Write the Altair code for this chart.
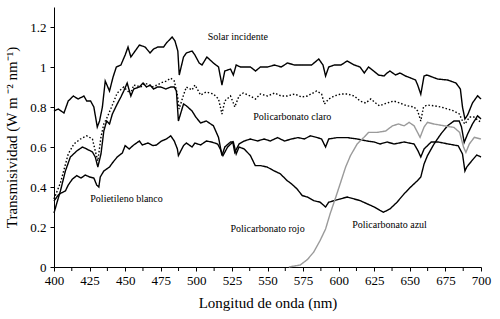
import altair as alt
import pandas as pd

# ---- data (wavelength nm, transmissivity) ----
solar = [(400,0.78),(403,0.79),(407,0.77),(410,0.83),(413.6,0.855),(417,0.84),(421,0.855),(423,0.83),
         (425.7,0.83),(428,0.80),(430.4,0.70),(432,0.73),(434,0.80),(436,0.93),(439,0.88),(441.5,0.95),
         (443.8,1.0),(447,1.01),(450,1.06),(452,1.10),(454,1.05),(457,1.08),(460,1.11),(464,1.10),
         (467.5,1.07),(470,1.09),(473,1.10),(477,1.10),(479,1.12),(483,1.15),(485,1.13),(487,1.08),
         (488,0.96),(491,1.05),(493,1.07),(497,1.08),(499,1.06),(502,1.02),(504,1.01),(507.4,1.05),
         (512,1.02),(515.6,1.0),(518,0.91),(520,0.98),(524,0.99),(526,0.96),(528,1.01),(531,1.0),
         (534,1.0),(538,1.0),(541.6,0.98),(545,1.0),(550,1.0),(555,1.01),(559.6,1.0),(564,1.02),
         (569,1.01),(574,1.01),(581,1.01),(586,1.04),(589,1.01),(590.8,0.955),(593,1.0),(597,1.01),
         (601.6,1.01),(606,1.03),(611,1.01),(615,1.0),(618,0.97),(621,1.0),(624.6,0.98),(628,0.96),
         (631.8,0.955),(634,0.97),(636,0.98),(640,0.96),(643,0.97),(647,0.955),(650.6,0.945),
         (654,0.935),(655.5,0.91),(657.7,0.864),(660,0.955),(662,0.96),(669.5,0.94),(676.5,0.935),
         (682.4,0.92),(685.5,0.89),(687,0.80),(688.7,0.74),(690.6,0.76),(694,0.82),(697.6,0.856),(700,0.84)]

claro = [(400,0.34),(404.5,0.42),(410,0.565),(414,0.615),(418.6,0.64),(423,0.656),(427,0.64),(429,0.58),
         (430.8,0.53),(433,0.65),(435,0.715),(437.5,0.75),(441,0.81),(444.4,0.87),(449,0.90),(453.8,0.865),
         (456,0.91),(461,0.90),(464,0.92),(469,0.90),(472.6,0.91),(475,0.92),(479,0.93),(482,0.944),
         (484.5,0.93),(486.7,0.86),(487.9,0.79),(491,0.86),(493,0.90),(497,0.885),(499,0.91),(503,0.86),
         (507,0.875),(512,0.865),(515.6,0.84),(518,0.765),(520,0.83),(524,0.855),(526,0.82),(527,0.80),
         (530,0.855),(533,0.87),(538,0.855),(541.6,0.84),(545,0.865),(550,0.855),(555,0.87),(559.6,0.855),
         (564,0.855),(569,0.865),(574,0.85),(578,0.855),(584.5,0.88),(588,0.865),(590,0.815),(593,0.84),
         (597,0.855),(601.6,0.865),(606,0.865),(611,0.855),(615,0.83),(619,0.82),(622.6,0.84),(626,0.82),
         (628.6,0.806),(634,0.82),(638.6,0.83),(643,0.82),(648,0.806),(653,0.80),(655.5,0.78),(657.7,0.73),
         (659.6,0.80),(662,0.81),(667,0.806),(672,0.80),(676.5,0.79),(681,0.78),(684.8,0.765),(687,0.73),
         (688.7,0.715),(692,0.75),(695,0.75),(698.6,0.73),(700,0.725)]

azul = [(400,0.27),(402,0.32),(404.5,0.38),(408,0.48),(411.5,0.55),(416,0.58),(420,0.60),(423,0.59),
        (427,0.575),(429,0.55),(430.8,0.50),(433,0.565),(435,0.68),(437,0.73),(439,0.715),(441,0.765),
        (444.4,0.815),(447,0.85),(449,0.88),(451.4,0.92),(454,0.855),(456,0.89),(460,0.90),(462.6,0.92),
        (465,0.90),(467.5,0.91),(470,0.89),(472.6,0.90),(475,0.90),(478.6,0.89),(482,0.90),(484.5,0.90),
        (486,0.88),(487.4,0.73),(491,0.815),(493,0.806),(497,0.78),(499.6,0.75),(503,0.72),(507,0.73),
        (512,0.706),(515.6,0.648),(518,0.557),(520,0.60),(524,0.625),(526,0.625),(528,0.565),(530,0.60),
        (533.7,0.59),(538,0.557),(541.4,0.507),(545,0.507),(549.7,0.50),(554,0.483),(559,0.466),
        (563.8,0.432),(567,0.415),(570.8,0.39),(574.4,0.357),(578,0.35),(582.5,0.332),(587,0.324),
        (590.8,0.30),(593,0.324),(597,0.332),(601,0.34),(606,0.35),(611,0.34),(615,0.332),(620,0.316),
        (625,0.30),(629,0.283),(631.5,0.274),(636,0.29),(641,0.324),(646,0.366),(650.6,0.40),(655.4,0.432),
        (657.7,0.45),(660,0.515),(662.4,0.557),(667,0.615),(671.8,0.665),(676.5,0.706),(681,0.73),
        (684.7,0.73),(686.3,0.70),(688.2,0.623),(690.6,0.665),(694,0.715),(697.6,0.756),(700,0.74)]

polietileno = [(400,0.33),(403,0.36),(405,0.37),(408,0.38),(410,0.41),(413,0.44),(416,0.457),(419,0.445),
               (422,0.46),(425,0.45),(428,0.445),(430,0.41),(431.5,0.40),(432.5,0.45),(435,0.48),(439,0.50),
               (441,0.52),(444.4,0.55),(448,0.57),(450,0.607),(452.8,0.59),(456,0.61),(460,0.63),(462,0.61),
               (466,0.62),(469.6,0.607),(472,0.61),(475.5,0.63),(479,0.64),(482,0.656),(484.5,0.63),
               (486.7,0.59),(487.4,0.557),(491,0.607),(493,0.62),(497,0.60),(499,0.62),(503,0.61),(507,0.63),
               (510.6,0.625),(515,0.615),(516.8,0.59),(518.7,0.557),(522,0.60),(525.6,0.625),(527,0.573),
               (530,0.615),(533.7,0.63),(538,0.64),(543,0.63),(547.6,0.64),(552,0.63),(557,0.647),(562,0.63),
               (566.8,0.64),(571.5,0.647),(576,0.64),(580,0.656),(585,0.647),(588,0.64),(590.8,0.60),
               (593,0.64),(599,0.647),(606,0.647),(613,0.64),(620,0.63),(625,0.625),(629,0.615),(634,0.625),
               (639,0.615),(646,0.625),(653,0.615),(655.8,0.58),(657.7,0.55),(660,0.59),(665,0.625),
               (670,0.625),(677,0.615),(684,0.606),(687,0.565),(688.7,0.48),(690,0.50),(694,0.535),
               (697,0.56),(700,0.55)]

rojo = [(565,0.0),(573,0.01),(578,0.037),(582.5,0.075),(587,0.133),(590.8,0.19),(594,0.266),(598,0.35),
        (601,0.415),(604.9,0.50),(608.3,0.557),(613,0.615),(617.7,0.648),(621,0.673),(627,0.673),(633,0.68),
        (637.8,0.706),(642,0.715),(646,0.706),(649.5,0.723),(653,0.706),(655.4,0.673),(657.2,0.648),
        (660,0.70),(662.4,0.723),(667,0.715),(674,0.706),(681,0.698),(685,0.673),(687.8,0.598),
        (689.4,0.573),(691.8,0.615),(695.3,0.648),(700,0.64)]

series_names = ["Solar incidente", "Policarbonato claro", "Policarbonato azul",
                "Polietileno blanco", "Policarbonato rojo"]
series_data = [solar, claro, azul, polietileno, rojo]
series_colors = ["#000000", "#000000", "#000000", "#000000", "#9a9a9a"]
series_dash = [[1, 0], [1.5, 2], [1, 0], [1, 0], [1, 0]]

label_texts = ["Solar incidente", "Policarbonato claro", "Polietileno blanco",
               "Policarbonato rojo", "Policarbonato azul"]
label_nm = [508, 540, 425.5, 524, 609.5]
label_val = [1.15, 0.748, 0.34, 0.19, 0.208]

x_label_ticks = [400, 425, 450, 475, 500, 525, 550, 575, 600, 625, 650, 675, 700]
x_minor_ticks = [412.5, 437.5, 462.5, 487.5, 512.5, 537.5, 562.5, 587.5, 612.5, 637.5, 662.5, 687.5]
y_ticks = [0, 0.2, 0.4, 0.6, 0.8, 1.0, 1.2]

rows = []
for name, pts in zip(series_names, series_data):
    for i, (nm, v) in enumerate(pts):
        rows.append({"nm": nm, "val": v, "serie": name, "order": i})
df = pd.DataFrame(rows)
labels_df = pd.DataFrame({"nm": label_nm, "val": label_val, "text": label_texts})
minor_df = pd.DataFrame({"nm": x_minor_ticks})

FONT = "Liberation Serif"

xscale = alt.Scale(domain=[400, 700], nice=False)
yscale = alt.Scale(domain=[0, 1.3], nice=False)

x_axis = alt.Axis(values=x_label_ticks, title="Longitud de onda (nm)", format="d",
                  labelOverlap=False, labelFlush=False,
                  tickSize=4, labelPadding=3, titlePadding=8)
y_axis = alt.Axis(values=y_ticks, format="~g", labelOverlap=False, labelFlush=False,
                  title="Transmisividad  (W m ⁻² nm⁻¹)",
                  tickSize=4, labelPadding=4, titlePadding=10)

# the same axis definition is given in every layer so that the merged axis keeps it
lines = alt.Chart(df).mark_line(strokeWidth=1.4).encode(
    x=alt.X("nm:Q", scale=xscale, axis=x_axis),
    y=alt.Y("val:Q", scale=yscale, axis=y_axis),
    order="order:Q",
    color=alt.Color("serie:N", scale=alt.Scale(domain=series_names, range=series_colors), legend=None),
    strokeDash=alt.StrokeDash("serie:N", scale=alt.Scale(domain=series_names, range=series_dash), legend=None),
)

# minor x ticks (between labelled ticks), placed through the x scale
minor = alt.Chart(minor_df).mark_rule(color="black", strokeWidth=1).encode(
    x=alt.X("nm:Q", scale=xscale, axis=x_axis),
    y=alt.value(260), y2=alt.value(264),
)

texts = alt.Chart(labels_df).mark_text(align="left", baseline="middle", font=FONT,
                                       fontSize=10, color="black").encode(
    x=alt.X("nm:Q", scale=xscale, axis=x_axis),
    y=alt.Y("val:Q", scale=yscale, axis=y_axis),
    text="text:N")

chart = (lines + minor + texts).properties(
    width=427, height=260,
    autosize=alt.AutoSizeParams(type="none"),
    padding={"left": 54, "top": 7, "right": 19, "bottom": 52},
    background="white",
).configure_view(stroke=None, clip=False).configure_axis(
    grid=False, domainColor="black", tickColor="black", labelColor="black",
    titleColor="black", labelFont=FONT, titleFont=FONT, labelFontSize=13,
    titleFontSize=15, titleFontWeight="normal", domainWidth=1, tickWidth=1,
)

chart.save("out.html", embed_options={"renderer": "svg", "actions": False})
